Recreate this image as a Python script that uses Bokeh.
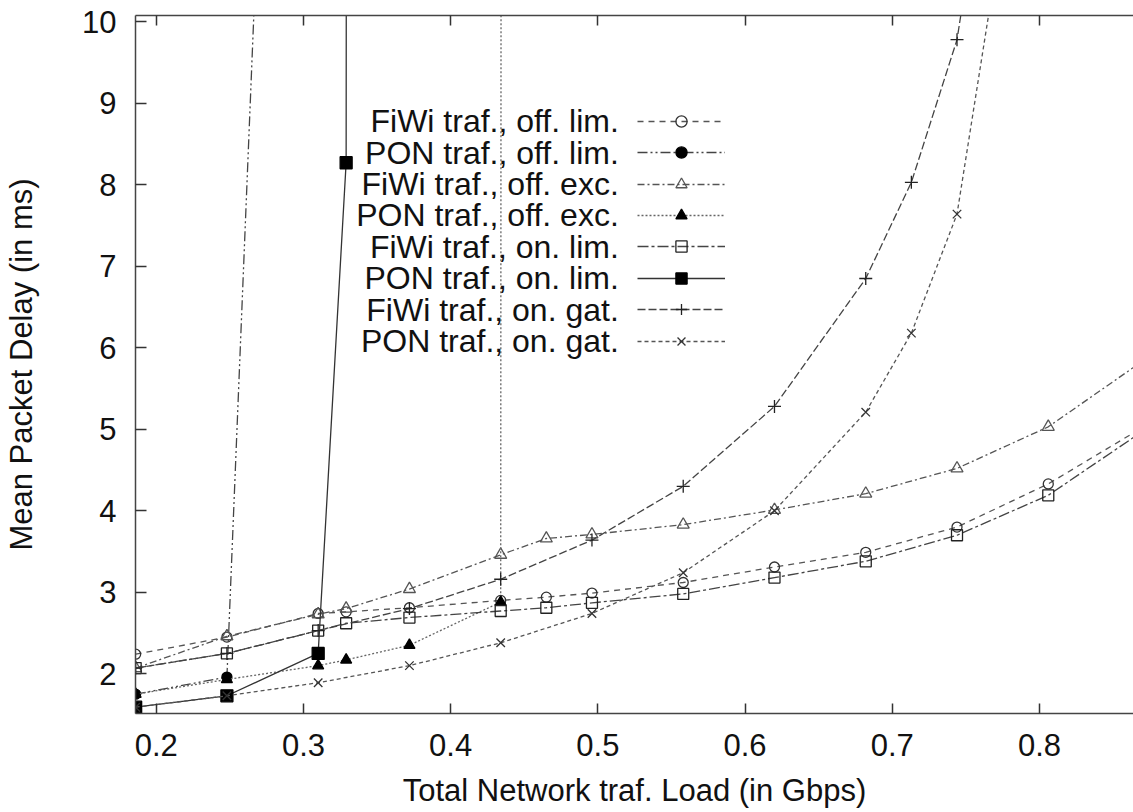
from bokeh.plotting import figure
from bokeh.models import Range1d, LinearAxis, Label, Legend, LegendItem, FixedTicker
from bokeh.embed import file_html
from bokeh.resources import INLINE

# ---------------- data ----------------
load_fiwi_off_lim = [0.186, 0.248, 0.310, 0.329, 0.372, 0.434, 0.465, 0.496, 0.558, 0.620, 0.682, 0.744, 0.806, 0.868]
delay_fiwi_off_lim = [2.24, 2.45, 2.74, 2.76, 2.81, 2.90, 2.94, 2.99, 3.12, 3.31, 3.49, 3.80, 4.33, 5.00]

load_pon_off_lim = [0.186, 0.248, 0.310]
delay_pon_off_lim = [1.75, 1.96, 29.5]

load_fiwi_off_exc = [0.186, 0.248, 0.310, 0.329, 0.372, 0.434, 0.465, 0.496, 0.558, 0.620, 0.682, 0.744, 0.806, 0.868]
delay_fiwi_off_exc = [2.07, 2.46, 2.73, 2.80, 3.04, 3.46, 3.66, 3.71, 3.83, 4.01, 4.21, 4.52, 5.03, 5.81]

load_pon_off_exc = [0.186, 0.248, 0.310, 0.329, 0.372, 0.434, 0.465]
delay_pon_off_exc = [1.75, 1.93, 2.10, 2.17, 2.35, 2.88, 1000.0]

load_fiwi_on_lim = [0.186, 0.248, 0.310, 0.329, 0.372, 0.434, 0.465, 0.496, 0.558, 0.620, 0.682, 0.744, 0.806, 0.868]
delay_fiwi_on_lim = [2.07, 2.25, 2.53, 2.62, 2.69, 2.77, 2.81, 2.87, 2.98, 3.18, 3.38, 3.70, 4.19, 4.95]

load_pon_on_lim = [0.186, 0.248, 0.310, 0.329, 0.372]
delay_pon_on_lim = [1.59, 1.73, 2.25, 8.27, 1000.0]

load_fiwi_on_gat = [0.186, 0.248, 0.310, 0.372, 0.434, 0.496, 0.558, 0.620, 0.682, 0.713, 0.744, 0.806]
delay_fiwi_on_gat = [2.07, 2.25, 2.53, 2.80, 3.16, 3.64, 4.30, 5.28, 6.85, 8.03, 9.78, 17.0]

load_pon_on_gat = [0.186, 0.248, 0.310, 0.372, 0.434, 0.496, 0.558, 0.620, 0.682, 0.713, 0.744, 0.806]
delay_pon_on_gat = [1.59, 1.73, 1.89, 2.10, 2.38, 2.74, 3.24, 4.00, 5.21, 6.18, 7.64, 14.7]

series_names = [
    "FiWi traf., off. lim.",
    "PON traf., off. lim.",
    "FiWi traf., off. exc.",
    "PON traf., off. exc.",
    "FiWi traf., on. lim.",
    "PON traf., on. lim.",
    "FiWi traf., on. gat.",
    "PON traf., on. gat.",
]

x_ticks = [0.2, 0.3, 0.4, 0.5, 0.6, 0.7, 0.8]
y_ticks = [2, 3, 4, 5, 6, 7, 8, 9, 10]
x_title = "Total Network traf. Load (in Gbps)"
y_title = "Mean Packet Delay (in ms)"

# ---------------- figure ----------------
FONT = "Liberation Sans"
TXT = "#111111"

p = figure(width=1133, height=812, output_backend="svg", toolbar_location=None,
           x_range=Range1d(0.1859, 0.8639), y_range=Range1d(1.5126, 10.077),
           min_border_left=135, min_border_right=0, min_border_top=15, min_border_bottom=99,
           x_axis_location=None, y_axis_location=None)
p.grid.visible = False
p.outline_line_color = None
p.background_fill_color = "white"
p.border_fill_color = "white"


def style_axis(ax, ticks, tick_len):
    ax.ticker = FixedTicker(ticks=ticks)
    ax.axis_line_color = "#444444"
    ax.axis_line_width = 1.5
    ax.major_tick_line_color = "#333333"
    ax.major_tick_line_width = 1.5
    ax.major_tick_in = tick_len
    ax.major_tick_out = 0
    ax.minor_tick_line_color = None
    ax.major_label_text_font = FONT
    ax.major_label_text_font_size = "31px"
    ax.major_label_text_color = TXT
    ax.axis_label_text_font = FONT
    ax.axis_label_text_font_size = "31px"
    ax.axis_label_text_font_style = "normal"
    ax.axis_label_text_color = TXT


xb = LinearAxis(axis_label=x_title)
style_axis(xb, x_ticks, 10)
xb.major_label_standoff = 20
xb.axis_label_standoff = 14
p.add_layout(xb, "below")

xt = LinearAxis()
style_axis(xt, x_ticks, 10)
xt.major_label_text_font_size = "1px"
xt.major_label_text_color = None
xt.major_label_standoff = 0
p.add_layout(xt, "above")

yl = LinearAxis(axis_label=y_title)
style_axis(yl, y_ticks, 11)
yl.major_label_standoff = 19
yl.axis_label_standoff = 40
p.add_layout(yl, "left")

# ---------------- series ----------------
styles = [
    dict(x=load_fiwi_off_lim, y=delay_fiwi_off_lim, dash="6 5", lc="#555555",
         marker="circle", size=10, fill=None, mc="#333333"),
    dict(x=load_pon_off_lim, y=delay_pon_off_lim, dash="10 3 2 3 2 3", lc="#444444",
         marker="circle", size=10, fill="#000000", mc="#000000"),
    dict(x=load_fiwi_off_exc, y=delay_fiwi_off_exc, dash="7 3 2 3", lc="#555555",
         marker="triangle", size=12, fill=None, mc="#555555"),
    dict(x=load_pon_off_exc, y=delay_pon_off_exc, dash="2 2", lc="#666666",
         marker="triangle", size=11, fill="#000000", mc="#000000"),
    dict(x=load_fiwi_on_lim, y=delay_fiwi_on_lim, dash="11 3 3 3", lc="#444444",
         marker="square", size=11, fill=None, mc="#222222"),
    dict(x=load_pon_on_lim, y=delay_pon_on_lim, dash="solid", lc="#333333",
         marker="square", size=12, fill="#000000", mc="#000000"),
    dict(x=load_fiwi_on_gat, y=delay_fiwi_on_gat, dash="8 3", lc="#444444",
         marker="cross", size=13, fill=None, mc="#222222"),
    dict(x=load_pon_on_gat, y=delay_pon_on_gat, dash="4 3", lc="#555555",
         marker="x", size=12, fill=None, mc="#333333"),
]

FRAME_H = 698
ROW0 = 105.7          # px from frame top to first legend row centre
ROW_STEP = 31.43
GH = 28

for i, (name, st) in enumerate(zip(series_names, styles)):
    r_line = p.line(st["x"], st["y"], line_color=st["lc"], line_width=1.3, line_dash=st["dash"])
    r_mark = p.scatter(st["x"], st["y"], marker=st["marker"], size=st["size"],
                       line_color=st["mc"], line_width=1.3,
                       fill_color=st["fill"], fill_alpha=1.0 if st["fill"] else 0.0)
    row_c = ROW0 + i * ROW_STEP
    lg = Legend(items=[LegendItem(label=" ", renderers=[r_line, r_mark])],
                location=(501.7, FRAME_H - row_c - GH / 2),
                orientation="vertical", padding=0, margin=0, spacing=0,
                glyph_width=88, glyph_height=GH, label_height=GH, label_width=0,
                label_standoff=0, label_text_font_size="1px", label_text_color=None,
                border_line_color=None, background_fill_alpha=0.0)
    p.add_layout(lg, "center")
    p.add_layout(Label(x=483.3, y=FRAME_H - row_c, x_units="screen", y_units="screen",
                       text=name, text_align="right", text_baseline="middle",
                       text_font=FONT, text_font_size="32px", text_color=TXT))

open("out.html", "w").write(file_html(p, INLINE))
